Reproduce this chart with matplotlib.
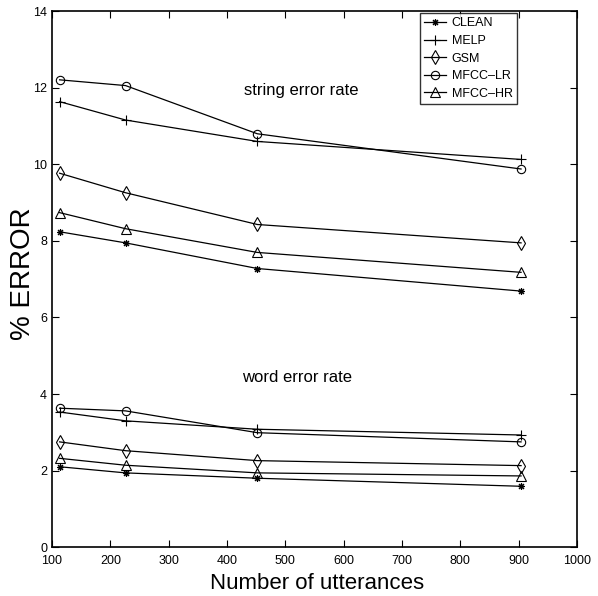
import matplotlib.pyplot as plt
import numpy as np

plt.rcParams['font.family'] = ['Liberation Sans', 'DejaVu Sans']

# number of utterances
n_utt = [113, 226, 452, 904]

# string error rate (%)
str_clean = [8.24, 7.95, 7.28, 6.69]
str_melp = [11.64, 11.16, 10.60, 10.13]
str_gsm = [9.77, 9.26, 8.43, 7.95]
str_mfcc_lr = [12.21, 12.06, 10.80, 9.88]
str_mfcc_hr = [8.74, 8.32, 7.70, 7.18]

# word error rate (%)
wrd_clean = [2.10, 1.94, 1.80, 1.59]
wrd_melp = [3.53, 3.30, 3.08, 2.93]
wrd_gsm = [2.75, 2.52, 2.26, 2.13]
wrd_mfcc_lr = [3.63, 3.56, 2.99, 2.75]
wrd_mfcc_hr = [2.32, 2.14, 1.94, 1.86]

labels = ['CLEAN', 'MELP', 'GSM', 'MFCC\u2013LR', 'MFCC\u2013HR']
markers = [(8, 2, 0), '+', 'd', 'o', '^']
sizes = [5, 7, 7, 6, 7]

fig = plt.figure(figsize=(5.98, 5.96), dpi=100)
ax = fig.add_axes([0.087, 0.082, 0.878, 0.899])

string_rates = [str_clean, str_melp, str_gsm, str_mfcc_lr, str_mfcc_hr]
word_rates = [wrd_clean, wrd_melp, wrd_gsm, wrd_mfcc_lr, wrd_mfcc_hr]

for lab, mk, ms, s_vals, w_vals in zip(labels, markers, sizes, string_rates, word_rates):
    ax.plot(n_utt, s_vals, color='k', lw=0.9, marker=mk, ms=ms,
            mfc='none', mec='k', mew=0.8, label=lab)
    ax.plot(n_utt, w_vals, color='k', lw=0.9, marker=mk, ms=ms,
            mfc='none', mec='k', mew=0.8)

ax.text(528, 11.93, 'string error rate', ha='center', va='center', fontsize=12)
ax.text(520, 4.42, 'word error rate', ha='center', va='center', fontsize=12)

ax.set_xlim(100, 1000)
ax.set_ylim(0, 14)
ax.set_xticks(np.arange(100, 1001, 100))
ax.set_yticks(np.arange(0, 15, 2))
ax.tick_params(direction='in', top=True, right=True, length=5, width=0.8,
               labelsize=9)
ax.tick_params(axis='x', pad=6)
for sp in ax.spines.values():
    sp.set_linewidth(1.2)

ax.set_xlabel('Number of utterances', fontsize=16)
ax.set_ylabel('% ERROR', fontsize=20)
ax.xaxis.set_label_coords(0.505, -0.048)
ax.yaxis.set_label_coords(-0.03, 0.51)

leg = ax.legend(loc='upper right', bbox_to_anchor=(0.886, 0.997),
                fontsize=9, frameon=True, fancybox=False, borderpad=0.35,
                labelspacing=0.45, handlelength=1.7, handletextpad=0.5,
                borderaxespad=0)
leg.get_frame().set_edgecolor('k')
leg.get_frame().set_linewidth(1.0)

fig.savefig('out.png', dpi=100)
